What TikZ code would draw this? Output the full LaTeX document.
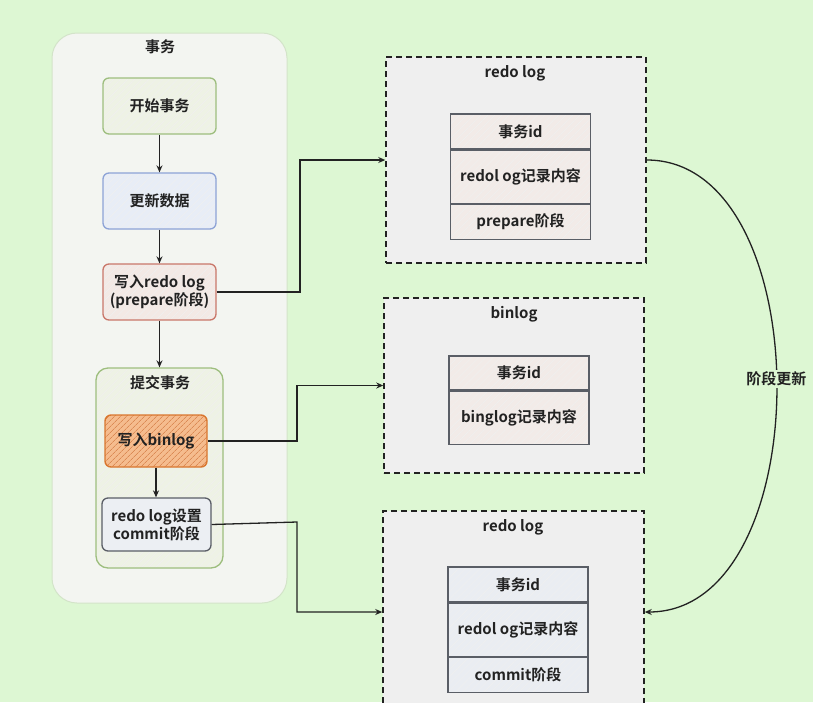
\documentclass[tikz,border=0pt]{standalone}
\usepackage{fontspec}
\setmainfont{Noto Sans CJK SC}[BoldFont={* Bold}]
\usetikzlibrary{arrows.meta,patterns.meta}
\definecolor{bg}{HTML}{DDF7D3}
\definecolor{outerfill}{HTML}{F3F5F1}
\definecolor{outerdraw}{HTML}{D3E4C9}
\definecolor{gfill}{HTML}{EEF2E5}
\definecolor{gdraw}{HTML}{9DBE7E}
\definecolor{bfill}{HTML}{E8EDF6}
\definecolor{bdraw}{HTML}{8DA3D6}
\definecolor{rfill}{HTML}{F3E9E5}
\definecolor{rdraw}{HTML}{C9776A}
\definecolor{ofill}{HTML}{F5BC8E}
\definecolor{ohatch}{HTML}{DB8A55}
\definecolor{odraw}{HTML}{D9762E}
\definecolor{gyfill}{HTML}{ECEFF3}
\definecolor{gydraw}{HTML}{5A5E66}
\definecolor{dashfill}{HTML}{EFEFEF}
\definecolor{rowfill}{HTML}{F2EBE8}
\definecolor{rowfillb}{HTML}{EAEDF2}
\definecolor{ink}{HTML}{222222}
\tikzset{
  lbl/.style={font=\bfseries\fontsize{15}{18}\selectfont, text=ink, align=center, inner sep=0pt},
  hatched/.style={preaction={fill=#1}, preaction={pattern={Lines[angle=45,distance=5pt,line width=0.4pt]}, pattern color=black!6}},
  rbox/.style={lbl, rounded corners=6pt, line width=1.3pt, minimum width=113pt, minimum height=56pt},
  dashbox/.style={draw=ink, fill=dashfill, dash pattern=on 6pt off 4pt, line width=1.5pt},
  row/.style={lbl, draw=gydraw, line width=1.3pt, hatched=rowfill, minimum width=140pt},
  rowb/.style={lbl, draw=gydraw, line width=1.3pt, hatched=rowfillb, minimum width=140pt},
  conn/.style={draw=ink, line width=1.3pt, -{Stealth[length=7pt,width=6pt]}},
  ttl/.style={lbl}
}
\begin{document}
\begin{tikzpicture}[x=1pt,y=-1pt]
\clip (0,0) rectangle (813,702);
\fill[bg] (0,0) rectangle (813,702);
% outer container
\node[draw=outerdraw, fill=outerfill, rounded corners=25pt, line width=1pt, minimum width=235pt, minimum height=570pt] (tx) at (169.5,318) {};
\node[ttl] (txt) at (160,47) {事务};
% steps
\node[rbox, draw=gdraw, hatched=gfill] (start) at (159.5,106) {开始事务};
\node[rbox, draw=bdraw, hatched=bfill] (upd) at (159.5,201) {更新数据};
\node[rbox, draw=rdraw, hatched=rfill] (wr) at (159.5,292) {写入redo log\\(prepare阶段)};
% commit container
\node[draw=gdraw, hatched=gfill, rounded corners=12pt, line width=1.3pt, minimum width=127pt, minimum height=200pt] (commit) at (159.5,468) {};
\node[ttl] (committ) at (160,383) {提交事务};
\node[lbl, draw=odraw, rounded corners=6pt, line width=1.4pt, minimum width=102pt, minimum height=52pt,
      preaction={fill=ofill},
      preaction={pattern={Lines[angle=45,distance=4pt,line width=0.7pt]}, pattern color=ohatch}] (wb) at (156,441) {写入binlog};
\node[rbox, draw=gydraw, fill=gyfill, minimum width=109pt, minimum height=53pt] (rc) at (156.5,524.5) {redo log设置\\commit阶段};
% arrows inside
\draw[conn] (start) -- (upd);
\draw[conn] (upd) -- (wr);
\draw[conn] (wr) -- (commit);
\draw[conn] (wb.south -| 156,0) -- (rc.north -| 156,0);
% right boxes
\node[dashbox, minimum width=260pt, minimum height=206pt] (rl1) at (516,160) {};
\node[ttl] (rl1t) at (515,73) {redo log};
\node[row, minimum height=35pt] (r1a) at (520.5,131.5) {事务id};
\node[row, minimum height=53pt, anchor=north] (r1b) at (r1a.south) {redol og记录内容};
\node[row, minimum height=35pt, anchor=north] (r1c) at (r1b.south) {prepare阶段};

\node[dashbox, minimum width=260pt, minimum height=175pt] (bl) at (514,385.5) {};
\node[ttl] (blt) at (514,314) {binlog};
\node[row, minimum height=34pt] (b1a) at (519,373) {事务id};
\node[row, minimum height=53pt, anchor=north] (b1b) at (b1a.south) {binglog记录内容};

\node[dashbox, minimum width=261pt, minimum height=202pt] (rl2) at (513.5,612) {};
\node[ttl] (rl2t) at (513,527) {redo log};
\node[rowb, minimum height=35pt] (r2a) at (518,584.5) {事务id};
\node[rowb, minimum height=53pt, anchor=north] (r2b) at (r2a.south) {redol og记录内容};
\node[rowb, minimum height=35pt, anchor=north] (r2c) at (r2b.south) {commit阶段};
% connectors
\draw[conn] (wr.east) -- (300,292) |- (rl1.west);
\draw[conn] (wb.east) -- (297,441) |- (bl.west);
\draw[conn] (rc.east) -- (297,522) |- (rl2.west);
\draw[conn] (rl1.east) .. controls (820,160) and (820,612) .. (rl2.east)
  node[pos=0.49, fill=bg, lbl, inner sep=2pt] (lab) {阶段更新};
\end{tikzpicture}
\end{document}
